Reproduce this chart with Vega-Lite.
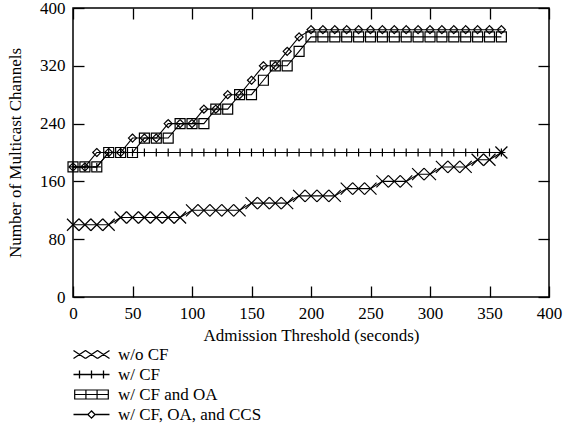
{
  "$schema": "https://vega.github.io/schema/vega-lite/v6.json",
  "width": 476,
  "height": 289,
  "autosize": {"type": "none"},
  "padding": {"left": 73, "top": 8, "right": 15, "bottom": 137},
  "background": "white",
  "config": {
    "view": {"stroke": "black", "strokeWidth": 1.5},
    "font": "Liberation Serif",
    "axis": {
      "labelFont": "Liberation Serif", "labelFontSize": 17, "labelColor": "black",
      "titleFont": "Liberation Serif", "titleFontSize": 17, "titleFontWeight": "normal", "titleColor": "black",
      "domain": false, "grid": false, "tickColor": "black", "tickWidth": 1.3, "tickSize": -11
    },
    "legend": {
      "orient": "none", "legendX": 10, "title": null, "direction": "vertical", "padding": 0,
      "labelOffset": 18, "symbolSize": 144, "labelFont": "Liberation Serif", "labelFontSize": 17, "labelColor": "black",
      "symbolStrokeColor": "black", "symbolStrokeWidth": 1.3, "symbolFillColor": "transparent", "symbolOpacity": 1
    }
  },
  "data": {"values": [
    {"t":0,"v":100,"s":"w/o CF"},{"t":10,"v":100,"s":"w/o CF"},{"t":20,"v":100,"s":"w/o CF"},{"t":30,"v":100,"s":"w/o CF"},
    {"t":40,"v":110,"s":"w/o CF"},{"t":50,"v":110,"s":"w/o CF"},{"t":60,"v":110,"s":"w/o CF"},{"t":70,"v":110,"s":"w/o CF"},{"t":80,"v":110,"s":"w/o CF"},{"t":90,"v":110,"s":"w/o CF"},
    {"t":100,"v":120,"s":"w/o CF"},{"t":110,"v":120,"s":"w/o CF"},{"t":120,"v":120,"s":"w/o CF"},{"t":130,"v":120,"s":"w/o CF"},{"t":140,"v":120,"s":"w/o CF"},
    {"t":150,"v":130,"s":"w/o CF"},{"t":160,"v":130,"s":"w/o CF"},{"t":170,"v":130,"s":"w/o CF"},{"t":180,"v":130,"s":"w/o CF"},
    {"t":190,"v":140,"s":"w/o CF"},{"t":200,"v":140,"s":"w/o CF"},{"t":210,"v":140,"s":"w/o CF"},{"t":220,"v":140,"s":"w/o CF"},
    {"t":230,"v":150,"s":"w/o CF"},{"t":240,"v":150,"s":"w/o CF"},{"t":250,"v":150,"s":"w/o CF"},
    {"t":260,"v":160,"s":"w/o CF"},{"t":270,"v":160,"s":"w/o CF"},{"t":280,"v":160,"s":"w/o CF"},
    {"t":290,"v":170,"s":"w/o CF"},{"t":300,"v":170,"s":"w/o CF"},
    {"t":310,"v":180,"s":"w/o CF"},{"t":320,"v":180,"s":"w/o CF"},{"t":330,"v":180,"s":"w/o CF"},
    {"t":340,"v":190,"s":"w/o CF"},{"t":350,"v":190,"s":"w/o CF"},
    {"t":360,"v":200,"s":"w/o CF"},

    {"t":0,"v":180,"s":"w/ CF"},{"t":10,"v":180,"s":"w/ CF"},{"t":20,"v":180,"s":"w/ CF"},
    {"t":30,"v":200,"s":"w/ CF"},{"t":40,"v":200,"s":"w/ CF"},{"t":50,"v":200,"s":"w/ CF"},{"t":60,"v":200,"s":"w/ CF"},{"t":70,"v":200,"s":"w/ CF"},{"t":80,"v":200,"s":"w/ CF"},{"t":90,"v":200,"s":"w/ CF"},
    {"t":100,"v":200,"s":"w/ CF"},{"t":110,"v":200,"s":"w/ CF"},{"t":120,"v":200,"s":"w/ CF"},{"t":130,"v":200,"s":"w/ CF"},{"t":140,"v":200,"s":"w/ CF"},{"t":150,"v":200,"s":"w/ CF"},{"t":160,"v":200,"s":"w/ CF"},{"t":170,"v":200,"s":"w/ CF"},
    {"t":180,"v":200,"s":"w/ CF"},{"t":190,"v":200,"s":"w/ CF"},{"t":200,"v":200,"s":"w/ CF"},{"t":210,"v":200,"s":"w/ CF"},{"t":220,"v":200,"s":"w/ CF"},{"t":230,"v":200,"s":"w/ CF"},{"t":240,"v":200,"s":"w/ CF"},{"t":250,"v":200,"s":"w/ CF"},
    {"t":260,"v":200,"s":"w/ CF"},{"t":270,"v":200,"s":"w/ CF"},{"t":280,"v":200,"s":"w/ CF"},{"t":290,"v":200,"s":"w/ CF"},{"t":300,"v":200,"s":"w/ CF"},{"t":310,"v":200,"s":"w/ CF"},{"t":320,"v":200,"s":"w/ CF"},{"t":330,"v":200,"s":"w/ CF"},
    {"t":340,"v":200,"s":"w/ CF"},{"t":350,"v":200,"s":"w/ CF"},{"t":360,"v":200,"s":"w/ CF"},

    {"t":0,"v":180,"s":"w/ CF and OA"},{"t":10,"v":180,"s":"w/ CF and OA"},{"t":20,"v":180,"s":"w/ CF and OA"},
    {"t":30,"v":200,"s":"w/ CF and OA"},{"t":40,"v":200,"s":"w/ CF and OA"},{"t":50,"v":200,"s":"w/ CF and OA"},
    {"t":60,"v":220,"s":"w/ CF and OA"},{"t":70,"v":220,"s":"w/ CF and OA"},{"t":80,"v":220,"s":"w/ CF and OA"},
    {"t":90,"v":240,"s":"w/ CF and OA"},{"t":100,"v":240,"s":"w/ CF and OA"},{"t":110,"v":240,"s":"w/ CF and OA"},
    {"t":120,"v":260,"s":"w/ CF and OA"},{"t":130,"v":260,"s":"w/ CF and OA"},
    {"t":140,"v":280,"s":"w/ CF and OA"},{"t":150,"v":280,"s":"w/ CF and OA"},
    {"t":160,"v":300,"s":"w/ CF and OA"},
    {"t":170,"v":320,"s":"w/ CF and OA"},{"t":180,"v":320,"s":"w/ CF and OA"},
    {"t":190,"v":340,"s":"w/ CF and OA"},
    {"t":200,"v":360,"s":"w/ CF and OA"},{"t":210,"v":360,"s":"w/ CF and OA"},{"t":220,"v":360,"s":"w/ CF and OA"},{"t":230,"v":360,"s":"w/ CF and OA"},{"t":240,"v":360,"s":"w/ CF and OA"},{"t":250,"v":360,"s":"w/ CF and OA"},
    {"t":260,"v":360,"s":"w/ CF and OA"},{"t":270,"v":360,"s":"w/ CF and OA"},{"t":280,"v":360,"s":"w/ CF and OA"},{"t":290,"v":360,"s":"w/ CF and OA"},{"t":300,"v":360,"s":"w/ CF and OA"},{"t":310,"v":360,"s":"w/ CF and OA"},
    {"t":320,"v":360,"s":"w/ CF and OA"},{"t":330,"v":360,"s":"w/ CF and OA"},{"t":340,"v":360,"s":"w/ CF and OA"},{"t":350,"v":360,"s":"w/ CF and OA"},{"t":360,"v":360,"s":"w/ CF and OA"},

    {"t":0,"v":180,"s":"w/ CF, OA, and CCS"},{"t":10,"v":180,"s":"w/ CF, OA, and CCS"},
    {"t":20,"v":200,"s":"w/ CF, OA, and CCS"},{"t":30,"v":200,"s":"w/ CF, OA, and CCS"},{"t":40,"v":200,"s":"w/ CF, OA, and CCS"},
    {"t":50,"v":220,"s":"w/ CF, OA, and CCS"},{"t":60,"v":220,"s":"w/ CF, OA, and CCS"},{"t":70,"v":220,"s":"w/ CF, OA, and CCS"},
    {"t":80,"v":240,"s":"w/ CF, OA, and CCS"},{"t":90,"v":240,"s":"w/ CF, OA, and CCS"},{"t":100,"v":240,"s":"w/ CF, OA, and CCS"},
    {"t":110,"v":260,"s":"w/ CF, OA, and CCS"},{"t":120,"v":260,"s":"w/ CF, OA, and CCS"},
    {"t":130,"v":280,"s":"w/ CF, OA, and CCS"},{"t":140,"v":280,"s":"w/ CF, OA, and CCS"},
    {"t":150,"v":300,"s":"w/ CF, OA, and CCS"},
    {"t":160,"v":320,"s":"w/ CF, OA, and CCS"},{"t":170,"v":320,"s":"w/ CF, OA, and CCS"},
    {"t":180,"v":340,"s":"w/ CF, OA, and CCS"},
    {"t":190,"v":360,"s":"w/ CF, OA, and CCS"},
    {"t":200,"v":370,"s":"w/ CF, OA, and CCS"},{"t":210,"v":370,"s":"w/ CF, OA, and CCS"},{"t":220,"v":370,"s":"w/ CF, OA, and CCS"},{"t":230,"v":370,"s":"w/ CF, OA, and CCS"},{"t":240,"v":370,"s":"w/ CF, OA, and CCS"},{"t":250,"v":370,"s":"w/ CF, OA, and CCS"},
    {"t":260,"v":370,"s":"w/ CF, OA, and CCS"},{"t":270,"v":370,"s":"w/ CF, OA, and CCS"},{"t":280,"v":370,"s":"w/ CF, OA, and CCS"},{"t":290,"v":370,"s":"w/ CF, OA, and CCS"},{"t":300,"v":370,"s":"w/ CF, OA, and CCS"},{"t":310,"v":370,"s":"w/ CF, OA, and CCS"},
    {"t":320,"v":370,"s":"w/ CF, OA, and CCS"},{"t":330,"v":370,"s":"w/ CF, OA, and CCS"},{"t":340,"v":370,"s":"w/ CF, OA, and CCS"},{"t":350,"v":370,"s":"w/ CF, OA, and CCS"},{"t":360,"v":370,"s":"w/ CF, OA, and CCS"}
  ]},
  "layer": [
    {
      "mark": {"type": "line", "color": "black", "strokeWidth": 1.1},
      "encoding": {
        "x": {"field": "t", "type": "quantitative", "scale": {"domain": [0, 400], "nice": false},
              "axis": {"values": [0,50,100,150,200,250,300,350,400], "title": "Admission Threshold (seconds)", "labelPadding": 19, "titlePadding": 6, "labelFlush": false}},
        "y": {"field": "v", "type": "quantitative", "scale": {"domain": [0, 400], "nice": false},
              "axis": {"values": [0,80,160,240,320,400], "title": "Number of Multicast Channels", "labelPadding": 19, "titlePadding": 15, "labelFlush": false}},
        "detail": {"field": "s"}
      }
    },
    {
      "transform": [{"filter": "datum.s == 'w/o CF'"}],
      "mark": {"type": "point", "filled": false, "strokeWidth": 1.2, "opacity": 1, "size": 144, "shape": "M-1,-1L1,1M-1,1L1,-1"},
      "encoding": {
        "x": {"field": "t", "type": "quantitative",
              "axis": {"orient": "top", "values": [0,50,100,150,200,250,300,350,400], "labels": false, "title": null}},
        "y": {"field": "v", "type": "quantitative",
              "axis": {"orient": "right", "values": [0,80,160,240,320,400], "labels": false, "title": null}},
        "color": {"field": "s", "type": "nominal",
          "scale": {"domain": ["w/o CF"], "range": ["black"]},
          "legend": {"legendY": 338,
            "symbolType": "M-3,-0.67L-1,0.67M-3,0.67L-1,-0.67M-1,-0.67L1,0.67M-1,0.67L1,-0.67M1,-0.67L3,0.67M1,0.67L3,-0.67"}
        }
      }
    },
    {
      "transform": [{"filter": "datum.s == 'w/ CF'"}],
      "mark": {"type": "point", "filled": false, "color": "black", "strokeWidth": 1.2, "opacity": 1, "shape": "M-0.67,0L0.67,0M0,-0.67L0,0.67"},
      "encoding": {
        "x": {"field": "t", "type": "quantitative", "axis": null},
        "y": {"field": "v", "type": "quantitative", "axis": null},
        "size": {"field": "s", "type": "nominal",
          "scale": {"type": "ordinal", "domain": ["w/ CF"], "range": [144]},
          "legend": {"legendY": 358,
            "symbolType": "M-3,0L3,0M-2,-0.67L-2,0.67M0,-0.67L0,0.67M2,-0.67L2,0.67"}
        }
      }
    },
    {
      "transform": [{"filter": "datum.s == 'w/ CF and OA'"}],
      "mark": {"type": "point", "filled": false, "color": "black", "opacity": 1, "size": 144, "shape": "M-0.83,-0.83L0.83,-0.83L0.83,0.83L-0.83,0.83Z"},
      "encoding": {
        "x": {"field": "t", "type": "quantitative", "axis": null},
        "y": {"field": "v", "type": "quantitative", "axis": null},
        "strokeWidth": {"field": "s", "type": "nominal",
          "scale": {"type": "ordinal", "domain": ["w/ CF and OA"], "range": [1.2]},
          "legend": {"legendY": 378,
            "symbolType": "M-2.8,-0.75L2.8,-0.75L2.8,0.75L-2.8,0.75ZM-0.93,-0.75L-0.93,0.75M0.93,-0.75L0.93,0.75M-2.8,0L2.8,0"}
        }
      }
    },
    {
      "transform": [{"filter": "datum.s == 'w/ CF, OA, and CCS'"}],
      "mark": {"type": "point", "filled": false, "color": "black", "strokeWidth": 1.2, "opacity": 1, "size": 144, "shape": "M-0.67,0L0,-0.67L0.67,0L0,0.67Z"},
      "encoding": {
        "x": {"field": "t", "type": "quantitative", "axis": null},
        "y": {"field": "v", "type": "quantitative", "axis": null},
        "strokeDash": {"field": "s", "type": "nominal",
          "scale": {"domain": ["w/ CF, OA, and CCS"], "range": [[1, 0]]},
          "legend": {"legendY": 398,
            "symbolType": "M-3,0L-0.6,0M0.6,0L3,0M-0.6,0L0,-0.6L0.6,0L0,0.6Z"}
        }
      }
    }
  ],
  "resolve": {"axis": {"x": "independent", "y": "independent"}}
}
